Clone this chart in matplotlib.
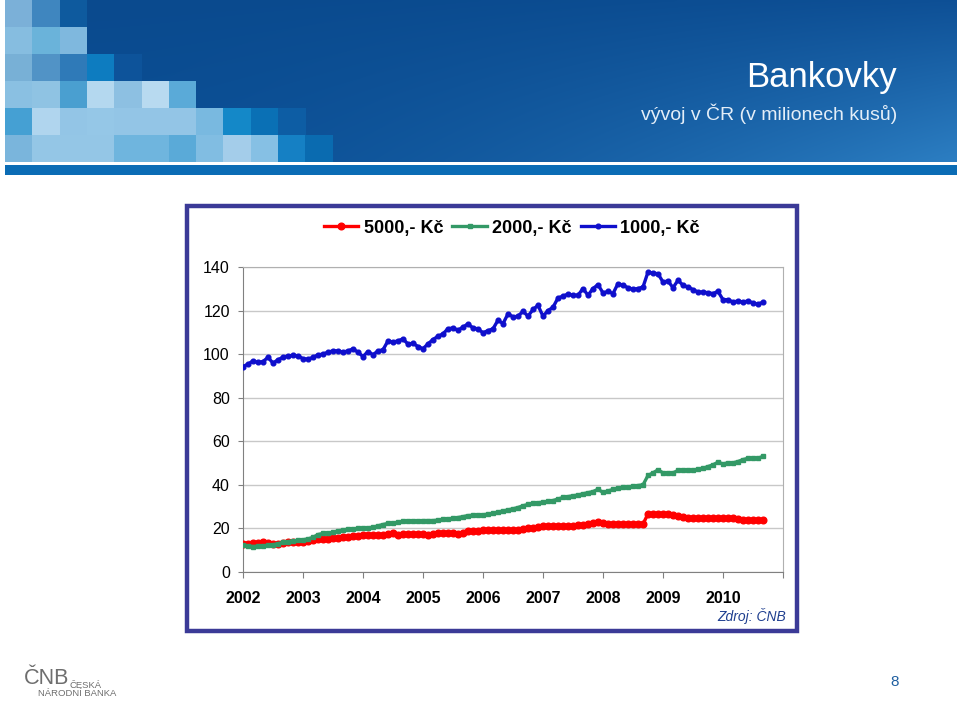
import matplotlib
matplotlib.use('Agg')
import matplotlib.pyplot as plt
import numpy as np
from matplotlib.patches import Rectangle

plt.rcParams['font.family'] = ['Liberation Sans', 'DejaVu Sans']

# ---------------- data ----------------
years = ['2002', '2003', '2004', '2005', '2006', '2007', '2008', '2009', '2010']
series_names = ['5000,- Kč', '2000,- Kč', '1000,- Kč']

k1000 = [94.3, 95.4, 96.9, 96.2, 96.6, 98.5, 95.9, 97.4, 98.6, 99.2, 99.4, 99.2,
         97.9, 97.7, 98.5, 99.7, 100.0, 100.9, 101.5, 101.5, 100.9, 101.5, 102.4, 100.9,
         98.9, 101.2, 99.7, 101.5, 102.0, 106.1, 105.5, 106.1, 107.0, 104.6, 105.0, 103.5,
         102.5, 104.7, 106.7, 108.2, 109.3, 111.7, 112.0, 111.0, 112.4, 113.9, 112.0, 111.6,
         109.8, 110.8, 111.6, 115.6, 114.0, 118.5, 117.1, 117.4, 119.7, 117.4, 120.5, 122.4,
         117.4, 120.0, 121.5, 125.8, 126.6, 127.6, 127.0, 127.0, 130.1, 127.0, 130.1, 131.9,
         128.1, 128.8, 127.8, 132.4, 131.6, 130.5, 129.8, 130.1, 130.8, 137.7, 137.2, 136.9,
         133.1, 133.6, 130.5, 133.9, 131.6, 130.8, 129.6, 128.5, 128.5, 128.2, 127.8, 128.8,
         125.0, 125.0, 123.9, 124.4, 123.9, 124.4, 123.5, 122.9, 123.9]

k2000 = [12.4, 12.0, 11.7, 11.8, 12.0, 12.2, 12.5, 13.0, 13.6, 13.9, 14.3, 14.5,
         14.8, 15.2, 15.9, 17.2, 17.7, 17.9, 18.2, 18.9, 19.2, 19.7, 19.8, 20.0,
         20.0, 20.3, 20.5, 21.2, 21.8, 22.3, 22.5, 22.8, 23.2, 23.5, 23.5, 23.4,
         23.6, 23.6, 23.6, 23.8, 24.2, 24.4, 24.6, 25.0, 25.4, 25.9, 26.0, 26.2,
         26.3, 26.5, 27.0, 27.5, 28.0, 28.5, 29.0, 29.6, 30.4, 31.0, 31.6, 31.8,
         32.0, 32.4, 32.8, 33.5, 34.2, 34.6, 35.0, 35.3, 35.9, 36.4, 36.9, 38.0,
         36.5, 37.2, 37.9, 38.6, 38.8, 39.0, 39.4, 39.7, 40.0, 44.3, 45.5, 46.9,
         45.5, 45.5, 45.5, 46.6, 46.9, 46.9, 46.6, 47.3, 47.6, 48.4, 49.2, 50.4,
         49.6, 50.1, 50.1, 50.7, 51.6, 52.2, 52.2, 52.2, 53.1]

k5000 = [12.8, 12.9, 13.1, 13.3, 13.6, 13.2, 12.8, 13.0, 13.3, 13.6, 13.9, 13.9,
         13.9, 14.2, 14.6, 15.0, 15.1, 15.3, 15.4, 15.7, 15.9, 16.2, 16.3, 16.6,
         16.9, 16.9, 16.9, 17.1, 17.2, 17.5, 17.7, 17.1, 17.3, 17.4, 17.5, 17.6,
         17.5, 17.1, 17.4, 17.8, 18.0, 18.1, 17.8, 17.5, 18.0, 18.6, 18.7, 18.9,
         19.2, 19.4, 19.4, 19.4, 19.2, 19.1, 19.1, 19.1, 19.8, 20.1, 20.4, 20.6,
         20.9, 20.9, 20.9, 21.0, 21.2, 21.2, 21.3, 21.5, 21.7, 22.0, 22.4, 23.0,
         22.4, 22.1, 22.0, 22.0, 22.0, 22.0, 22.0, 22.0, 22.0, 26.7, 26.7, 26.7,
         26.7, 26.5, 26.0, 25.6, 25.2, 24.8, 24.6, 24.6, 24.6, 24.6, 24.6, 24.6,
         24.6, 24.6, 24.6, 24.2, 24.0, 24.0, 24.0, 24.0, 24.0]

# decorative header mosaic (rows of tile colours)
tile_rows = [
    ['#7bb0d8', '#3f86bf', '#0e5a9e'],
    ['#86bde0', '#6ab3da', '#7fb8de'],
    ['#78b0d6', '#5193c6', '#2f7ab8', '#0d7cc0', '#0d539a'],
    ['#8ac0e2', '#8fc3e3', '#4a9fd0', '#b4d8ef', '#8dc0e2', '#b8daf0', '#5aaad8'],
    ['#45a0d3', '#b0d5ee', '#93c5e6', '#95c7e7', '#93c5e6', '#93c5e6', '#93c5e6',
     '#79b9e0', '#1488c8', '#0a70b5', '#0d5da4'],
    ['#7ab5dc', '#94c6e6', '#94c6e6', '#94c6e6', '#6fb5de', '#6fb5de', '#5aaad8',
     '#81bde2', '#a4cdea', '#86c0e4', '#1580c4', '#0a6bb0'],
]

# ---------------- figure ----------------
W, H = 960, 701
fig = plt.figure(figsize=(9.6, 7.01), dpi=100)
bg = fig.add_axes([0, 0, 1, 1])
bg.set_xlim(0, W)
bg.set_ylim(H, 0)
bg.axis('off')

# header gradient
gx = np.linspace(0, 1, 200)
gy = np.linspace(0, 1, 60)
U, V = np.meshgrid(gx, gy)
c00 = np.array([10, 74, 142]) / 255
c10 = np.array([14, 80, 150]) / 255
c01 = np.array([11, 79, 149]) / 255
c11 = np.array([44, 126, 194]) / 255
U2 = U ** 2
img = (c00 * ((1 - U2) * (1 - V))[..., None] + c10 * (U2 * (1 - V))[..., None]
       + c01 * ((1 - U2) * V)[..., None] + c11 * (U2 * V)[..., None])
bg.imshow(img, extent=[5, 957, 162, 0], aspect='auto', interpolation='bilinear', zorder=0)

tw, th = 27.3, 27.0
for r, row in enumerate(tile_rows):
    for c, col in enumerate(row):
        if col:
            bg.add_patch(Rectangle((5 + c * tw, r * th), tw + 0.3, th + 0.3,
                                   facecolor=col, edgecolor='none', zorder=1))

bg.add_patch(Rectangle((5, 165), 952, 10, facecolor='#0b6cb5', edgecolor='none', zorder=1))

bg.text(897, 77, 'Bankovky', color='white', fontsize=25, ha='right', va='center', zorder=2)
bg.text(897, 114, 'vývoj v ČR (v milionech kusů)', color='#e4eef8', fontsize=14,
        ha='right', va='center', zorder=2)

# chart frame
bg.add_patch(Rectangle((187, 206), 610, 425, facecolor='white', edgecolor='#3b3a97',
                       lw=3.2, zorder=1))

bg.text(786, 616, 'Zdroj: ČNB', color='#1f3f8f', fontsize=10, style='italic',
        ha='right', va='center', zorder=2)

# logo and page number
bg.text(24, 678, 'ČNB', color='#6e6e6e', fontsize=15.5, ha='left', va='center', zorder=2)
bg.text(69, 685, 'ČESKÁ', color='#6e6e6e', fontsize=6.8, ha='left', va='center', zorder=2)
bg.text(38, 694, 'NÁRODNÍ BANKA', color='#6e6e6e', fontsize=6.8, ha='left', va='center', zorder=2)
bg.text(895, 682, '8', color='#1f5fa0', fontsize=11, ha='center', va='center', zorder=2)

# ---------------- chart ----------------
ax = fig.add_axes([243 / W, 1 - 572 / H, 540 / W, 305 / H])
ax.set_facecolor('none')
months = np.arange(len(k1000))

l5, = ax.plot(months, k5000, color='#ff0000', lw=2.4, marker='o', ms=4.8, zorder=3)
l2, = ax.plot(months, k2000, color='#339966', lw=2.4, marker='s', ms=3.4, zorder=3)
l1, = ax.plot(months, k1000, color='#0f0fcc', lw=2.4, marker='o', ms=3.4, zorder=4)

ax.set_xlim(0, 108)
ax.set_ylim(0, 140)
ax.set_yticks(np.arange(0, 141, 20))
ax.set_xticks(np.arange(0, 109, 12))
ax.set_xticklabels(years + [''], fontweight='bold', fontsize=11.5)
ax.tick_params(axis='y', labelsize=11.5, length=3.5, pad=6, color='#808080')
ax.tick_params(axis='x', length=4, pad=10, color='#808080')
ax.grid(axis='y', color='#c8c8c8', lw=1)
ax.set_axisbelow(True)
for s in ['left', 'bottom']:
    ax.spines[s].set_color('#808080')
for s in ['right', 'top']:
    ax.spines[s].set_color('#b0b0b0')

leg = fig.legend([l5, l2, l1], series_names, loc='center', ncol=3,
                 bbox_to_anchor=(512 / W, 1 - 228 / H), frameon=False,
                 prop={'weight': 'bold', 'size': 13}, handlelength=1.9,
                 handletextpad=0.3, columnspacing=0.5, numpoints=1)

fig.savefig('out.png', dpi=100)
